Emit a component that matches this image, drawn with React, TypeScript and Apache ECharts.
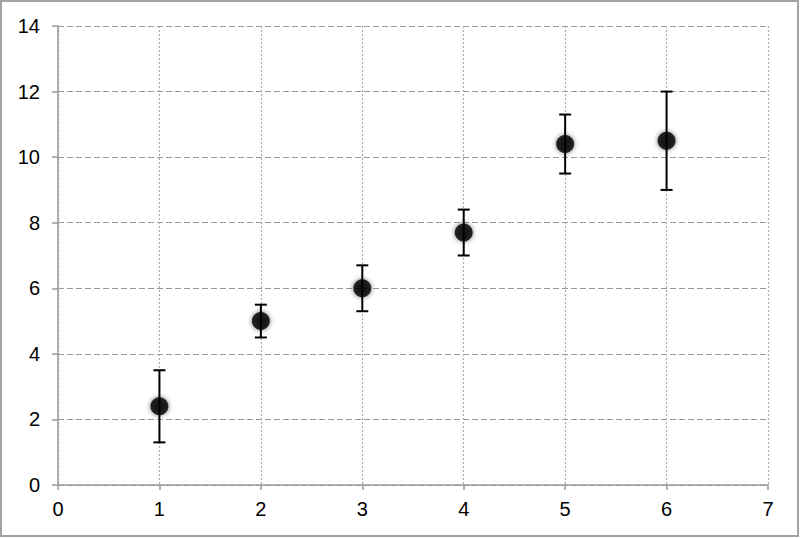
import React, { useEffect, useRef } from "react";
import * as echarts from "echarts";

const xValues = [1, 2, 3, 4, 5, 6];
const means = [2.4, 5.0, 6.0, 7.7, 10.4, 10.5];
const upper = [3.5, 5.5, 6.7, 8.4, 11.3, 12.0];
const lower = [1.3, 4.5, 5.3, 7.0, 9.5, 9.0];

export default function App() {
  const ref = useRef<HTMLDivElement>(null);
  useEffect(() => {
    if (!ref.current) return;
    const chart = echarts.init(ref.current, null, { renderer: "svg" });
    const font = "'Liberation Sans', Arial, Helvetica, sans-serif";
    chart.setOption({
      animation: false,
      backgroundColor: "#ffffff",
      grid: { left: 58, right: 32, top: 26, bottom: 53, containLabel: false },
      graphic: [
        {
          type: "rect",
          shape: { x: 1, y: 1, width: 797, height: 535 },
          style: { fill: "none", stroke: "#a3a3a3", lineWidth: 2 },
          silent: true,
          z: -1,
        },
      ],
      xAxis: {
        type: "value",
        min: 0,
        max: 7,
        interval: 1,
        axisLine: { show: true, lineStyle: { color: "#9a9a9a", width: 1.5 } },
        axisTick: { show: true, length: 5, lineStyle: { color: "#9a9a9a", width: 1.5 } },
        axisLabel: { color: "#000", fontSize: 20, fontFamily: font, margin: 14 },
        splitLine: { show: true, lineStyle: { color: "#aaaaaa", type: [2, 2], width: 1.2 } },
      },
      yAxis: {
        type: "value",
        min: 0,
        max: 14,
        interval: 2,
        axisLine: { show: true, lineStyle: { color: "#9a9a9a", width: 1.5 } },
        axisTick: { show: true, length: 6, lineStyle: { color: "#9a9a9a", width: 1.5 } },
        axisLabel: { color: "#000", fontSize: 20, fontFamily: font, margin: 18 },
        splitLine: { show: true, lineStyle: { color: "#999999", type: [6, 3], width: 1.2 } },
      },
      series: [
        {
          type: "custom",
          data: xValues.map((x, i) => [x, lower[i], upper[i]]),
          renderItem: (params: any, api: any) => {
            const x = api.value(0);
            const lo = api.coord([x, api.value(1)]);
            const hi = api.coord([x, api.value(2)]);
            const hw = 6;
            const style = { stroke: "#000", lineWidth: 2 };
            return {
              type: "group",
              children: [
                { type: "line", shape: { x1: lo[0], y1: lo[1], x2: hi[0], y2: hi[1] }, style },
                { type: "line", shape: { x1: hi[0] - hw, y1: hi[1], x2: hi[0] + hw, y2: hi[1] }, style },
                { type: "line", shape: { x1: lo[0] - hw, y1: lo[1], x2: lo[0] + hw, y2: lo[1] }, style },
              ],
            };
          },
          z: 2,
        },
        {
          type: "scatter",
          data: xValues.map((x, i) => [x, means[i]]),
          symbol: "circle",
          symbolSize: 18,
          itemStyle: { color: "#000", shadowBlur: 5, shadowColor: "rgba(0,0,0,0.7)" },
          z: 3,
        },
      ],
    });
    return () => chart.dispose();
  }, []);
  return (
    <div
      ref={ref}
      style={{ position: "absolute", left: 0, top: 0, width: 800, height: 538 }}
    />
  );
}
